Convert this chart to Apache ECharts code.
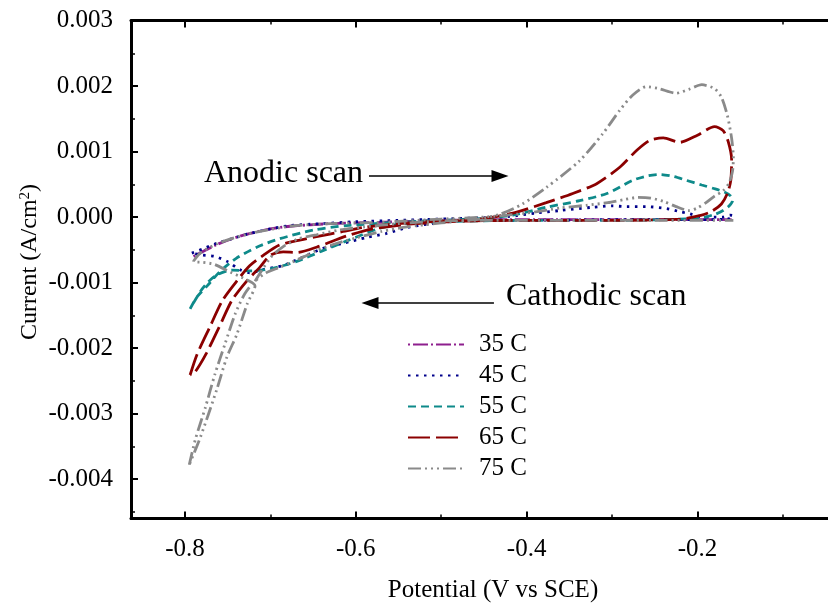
<!DOCTYPE html>
<html><head><meta charset="utf-8">
<script src="https://cdn.jsdelivr.net/npm/echarts@6/dist/echarts.min.js"></script>
<style>html,body{margin:0;padding:0;background:#fff}#c{width:828px;height:605px}</style>
</head><body><div id="c"></div>
<script>
const seriesNames = ['35 C', '45 C', '55 C', '65 C', '75 C'];
const xTicks = [-0.8, -0.6, -0.4, -0.2];
const xMinorTicks = [-0.7, -0.5, -0.3, -0.1];
const yTicks = [-0.004, -0.003, -0.002, -0.001, 0, 0.001, 0.002, 0.003];
const yMinorTicks = [-0.0045, -0.0035, -0.0025, -0.0015, -0.0005, 0.0005, 0.0015, 0.0025];
const X_MIN = -0.8632, X_MAX = -0.0472;
const Y_MIN = -0.0046, Y_MAX = 0.003;

// [potential V, current A/cm2]
const c35 = [[-0.790,-0.00060],[-0.775,-0.00050],[-0.763,-0.00042],[-0.745,-0.00033],[-0.727,-0.00026],[-0.700,-0.00018],[-0.677,-0.00014],[-0.630,-0.00010],[-0.572,-0.00008],[-0.500,-0.00005],[-0.420,-0.00004],[-0.300,-0.00004],[-0.200,-0.00004],[-0.160,-0.00004]];
const c45 = [[-0.792,-0.00055],[-0.780,-0.00049],[-0.763,-0.00040],[-0.745,-0.00033],[-0.727,-0.00026],[-0.700,-0.00018],[-0.677,-0.00013],[-0.640,-0.00010],[-0.600,-0.00007],[-0.550,-0.00005],[-0.500,-0.00003],[-0.450,-0.00001],[-0.420,0.00001],[-0.390,0.00006],[-0.361,0.00010],[-0.323,0.00015],[-0.300,0.00017],[-0.283,0.00016],[-0.260,0.00016],[-0.236,0.00013],[-0.220,0.00008],[-0.209,0.00005],[-0.198,0.00001],[-0.185,0.00000],[-0.170,0.00000],[-0.162,0.00003],[-0.158,0.00002],[-0.165,-0.00003],[-0.200,-0.00004],[-0.300,-0.00004],[-0.400,-0.00005],[-0.460,-0.00005],[-0.500,-0.00008],[-0.540,-0.00016],[-0.564,-0.00025],[-0.587,-0.00031],[-0.615,-0.00040],[-0.639,-0.00048],[-0.662,-0.00061],[-0.685,-0.00074],[-0.709,-0.00080],[-0.724,-0.00085],[-0.736,-0.00080],[-0.750,-0.00068],[-0.765,-0.00060],[-0.780,-0.00058],[-0.792,-0.00055]];
const c55 = [[-0.794,-0.00140],[-0.786,-0.00122],[-0.774,-0.00105],[-0.759,-0.00083],[-0.740,-0.00063],[-0.716,-0.00046],[-0.689,-0.00033],[-0.650,-0.00020],[-0.611,-0.00013],[-0.550,-0.00008],[-0.500,-0.00005],[-0.450,-0.00002],[-0.416,0.00003],[-0.377,0.00015],[-0.338,0.00025],[-0.306,0.00036],[-0.276,0.00056],[-0.258,0.00063],[-0.244,0.00065],[-0.228,0.00062],[-0.213,0.00056],[-0.195,0.00049],[-0.182,0.00044],[-0.168,0.00038],[-0.161,0.00032],[-0.159,0.00025],[-0.163,0.00017],[-0.170,0.00010],[-0.180,0.00004],[-0.200,-0.00002],[-0.300,-0.00005],[-0.400,-0.00005],[-0.500,-0.00007],[-0.550,-0.00011],[-0.572,-0.00017],[-0.610,-0.00036],[-0.640,-0.00052],[-0.670,-0.00068],[-0.700,-0.00079],[-0.722,-0.00082],[-0.745,-0.00081],[-0.765,-0.00090],[-0.780,-0.00110],[-0.794,-0.00140]];
const c65 = [[-0.794,-0.00241],[-0.786,-0.00210],[-0.771,-0.00168],[-0.756,-0.00127],[-0.739,-0.00097],[-0.724,-0.00074],[-0.708,-0.00058],[-0.690,-0.00043],[-0.669,-0.00036],[-0.646,-0.00030],[-0.615,-0.00022],[-0.592,-0.00016],[-0.550,-0.00010],[-0.500,-0.00006],[-0.455,-0.00003],[-0.416,0.00006],[-0.377,0.00022],[-0.346,0.00036],[-0.318,0.00051],[-0.291,0.00076],[-0.271,0.00102],[-0.256,0.00117],[-0.240,0.00121],[-0.221,0.00114],[-0.200,0.00125],[-0.180,0.00138],[-0.170,0.00132],[-0.164,0.00115],[-0.160,0.00087],[-0.161,0.00056],[-0.165,0.00036],[-0.172,0.00020],[-0.183,0.00009],[-0.195,0.00003],[-0.220,-0.00003],[-0.300,-0.00005],[-0.400,-0.00005],[-0.470,-0.00006],[-0.530,-0.00010],[-0.580,-0.00018],[-0.611,-0.00029],[-0.646,-0.00046],[-0.669,-0.00054],[-0.685,-0.00053],[-0.700,-0.00058],[-0.712,-0.00076],[-0.728,-0.00098],[-0.745,-0.00127],[-0.760,-0.00168],[-0.775,-0.00208],[-0.788,-0.00236],[-0.794,-0.00241]];
const c75 = [[-0.795,-0.00378],[-0.788,-0.00340],[-0.776,-0.00290],[-0.765,-0.00240],[-0.753,-0.00193],[-0.741,-0.00147],[-0.730,-0.00117],[-0.720,-0.00100],[-0.705,-0.00085],[-0.690,-0.00077],[-0.677,-0.00070],[-0.660,-0.00060],[-0.646,-0.00051],[-0.622,-0.00040],[-0.600,-0.00032],[-0.570,-0.00022],[-0.540,-0.00015],[-0.500,-0.00009],[-0.470,-0.00005],[-0.455,-0.00003],[-0.430,0.00005],[-0.405,0.00020],[-0.377,0.00045],[-0.338,0.00086],[-0.311,0.00127],[-0.291,0.00163],[-0.276,0.00186],[-0.260,0.00199],[-0.245,0.00196],[-0.225,0.00189],[-0.210,0.00195],[-0.195,0.00202],[-0.180,0.00196],[-0.172,0.00183],[-0.165,0.00155],[-0.160,0.00120],[-0.158,0.00090],[-0.159,0.00070],[-0.163,0.00052],[-0.170,0.00040],[-0.180,0.00032],[-0.190,0.00022],[-0.200,0.00014],[-0.210,0.00010],[-0.225,0.00016],[-0.240,0.00024],[-0.255,0.00029],[-0.270,0.00030],[-0.285,0.00027],[-0.305,0.00022],[-0.330,0.00018],[-0.360,0.00014],[-0.400,0.00006],[-0.450,0.00000],[-0.500,-0.00003],[-0.572,-0.00008],[-0.630,-0.00010],[-0.677,-0.00014],[-0.727,-0.00026],[-0.763,-0.00041],[-0.782,-0.00055],[-0.790,-0.00068],[-0.780,-0.00069],[-0.766,-0.00072],[-0.747,-0.00084],[-0.732,-0.00093],[-0.718,-0.00105],[-0.727,-0.00132],[-0.739,-0.00178],[-0.751,-0.00214],[-0.763,-0.00264],[-0.782,-0.00336],[-0.795,-0.00378]];
const c75b = [[-0.718,-0.00098],[-0.700,-0.00062],[-0.685,-0.00045],[-0.667,-0.00033],[-0.646,-0.00027],[-0.620,-0.00020],[-0.590,-0.00015],[-0.550,-0.00010],[-0.500,-0.00006],[-0.450,-0.00005],[-0.350,-0.00005],[-0.250,-0.00005],[-0.158,-0.00005]];

const FONT = "'Liberation Serif', 'Times New Roman', serif";
const chart = echarts.init(document.getElementById('c'), null, {renderer: 'canvas'});

function mk(name, data, color, dash, z) {
  return {
    type: 'line', name: name, data: data, xAxisIndex: 0, yAxisIndex: 0,
    symbol: 'none', smooth: 0.25, z: z, animation: false,
    lineStyle: {color: color, width: 2.8, type: dash},
    itemStyle: {color: color},
    emphasis: {disabled: true}
  };
}

const baseX = {
  type: 'value', min: X_MIN, max: X_MAX, gridIndex: 0,
  splitLine: {show: false}, axisPointer: {show: false}
};
const baseY = {
  type: 'value', min: Y_MIN, max: Y_MAX, gridIndex: 0,
  splitLine: {show: false}
};

const s35 = mk('35 C', c35, '#8E1F8E', [2, 3, 15, 3], 2);
s35.markLine = {
  silent: true, symbol: ['none', 'triangle'], symbolSize: [12, 17], animation: false,
  label: {show: false}, emphasis: {disabled: true},
  lineStyle: {color: '#000', width: 1.5, type: 'solid'},
  data: [
    [{coord: [-0.5846, 0.000627]}, {coord: [-0.4312, 0.000627]}],
    [{coord: [-0.4383, -0.001311]}, {coord: [-0.5834, -0.001311]}]
  ]
};

const option = {
  backgroundColor: '#fff',
  animation: false,
  grid: {left: 131, top: 20.5, right: 0, bottom: 86.5, containLabel: false},
  xAxis: [
    Object.assign({}, baseX, {
      position: 'bottom',
      axisLine: {show: true, onZero: false, lineStyle: {color: '#000', width: 3}},
      axisTick: {show: true, inside: true, length: 7, customValues: xTicks, lineStyle: {color: '#000', width: 2}},
      axisLabel: {show: true, customValues: xTicks, margin: 18, color: '#000', fontSize: 25, fontFamily: FONT,
        formatter: v => v.toFixed(1)}
    }),
    Object.assign({}, baseX, {
      position: 'bottom',
      axisLine: {show: false, onZero: false},
      axisTick: {show: true, inside: true, length: 4, customValues: xMinorTicks, lineStyle: {color: '#000', width: 1.5}},
      axisLabel: {show: false}
    }),
    Object.assign({}, baseX, {
      position: 'top',
      axisLine: {show: true, onZero: false, lineStyle: {color: '#000', width: 3}},
      axisTick: {show: true, inside: true, length: 7, customValues: xTicks, lineStyle: {color: '#000', width: 2}},
      axisLabel: {show: false}
    }),
    Object.assign({}, baseX, {
      position: 'top',
      axisLine: {show: false, onZero: false},
      axisTick: {show: true, inside: true, length: 4, customValues: xMinorTicks, lineStyle: {color: '#000', width: 1.5}},
      axisLabel: {show: false}
    })
  ],
  yAxis: [
    Object.assign({}, baseY, {
      position: 'left',
      axisLine: {show: true, onZero: false, lineStyle: {color: '#000', width: 3}},
      axisTick: {show: true, inside: true, length: 7, customValues: yTicks, lineStyle: {color: '#000', width: 2}},
      axisLabel: {show: true, customValues: yTicks, margin: 18, color: '#000', fontSize: 25, fontFamily: FONT,
        formatter: v => v.toFixed(3)}
    }),
    Object.assign({}, baseY, {
      position: 'left',
      axisLine: {show: false, onZero: false},
      axisTick: {show: true, inside: true, length: 4, customValues: yMinorTicks, lineStyle: {color: '#000', width: 1.5}},
      axisLabel: {show: false}
    })
  ],
  legend: {
    orient: 'vertical', left: 402, top: 327,
    itemWidth: 56, itemHeight: 12, itemGap: 6,
    selectedMode: false,
    itemStyle: {opacity: 0},
    data: seriesNames,
    textStyle: {fontSize: 25, fontFamily: FONT, color: '#000', lineHeight: 25, padding: [0, 0, 0, 10]}
  },
  graphic: [
    {type: 'text', x: 204, y: 174, silent: true,
      style: {text: 'Anodic scan', fontSize: 32, fontFamily: FONT, fill: '#000', align: 'left', verticalAlign: 'middle'}},
    {type: 'text', x: 506, y: 297, silent: true,
      style: {text: 'Cathodic scan', fontSize: 32, fontFamily: FONT, fill: '#000', align: 'left', verticalAlign: 'middle'}},
    {type: 'text', x: 493, y: 590, silent: true,
      style: {text: 'Potential (V vs SCE)', fontSize: 25, fontFamily: FONT, fill: '#000', align: 'center', verticalAlign: 'middle'}},
    {type: 'text', x: 30, y: 262, rotation: Math.PI / 2, silent: true,
      style: {text: 'Current (A/cm{sup|2})', fontSize: 24, fontFamily: FONT, fill: '#000', align: 'center', verticalAlign: 'middle',
        rich: {sup: {fontSize: 15, fontFamily: FONT, fill: '#000', verticalAlign: 'top', lineHeight: 14}}}}
  ],
  series: [
    s35,
    mk('45 C', c45, '#00008B', [2.5, 5.5], 3),
    mk('55 C', c55, '#0E8A8A', [8, 5], 4),
    mk('65 C', c65, '#8B0000', [22, 6], 5),
    mk('75 C', c75, '#8A8A8A', [13, 4, 2, 4, 2, 4, 2, 4], 6),
    mk('75 C', c75b, '#8A8A8A', [13, 4, 2, 4, 2, 4, 2, 4], 6)
  ]
};
chart.setOption(option);
</script>
</body></html>
